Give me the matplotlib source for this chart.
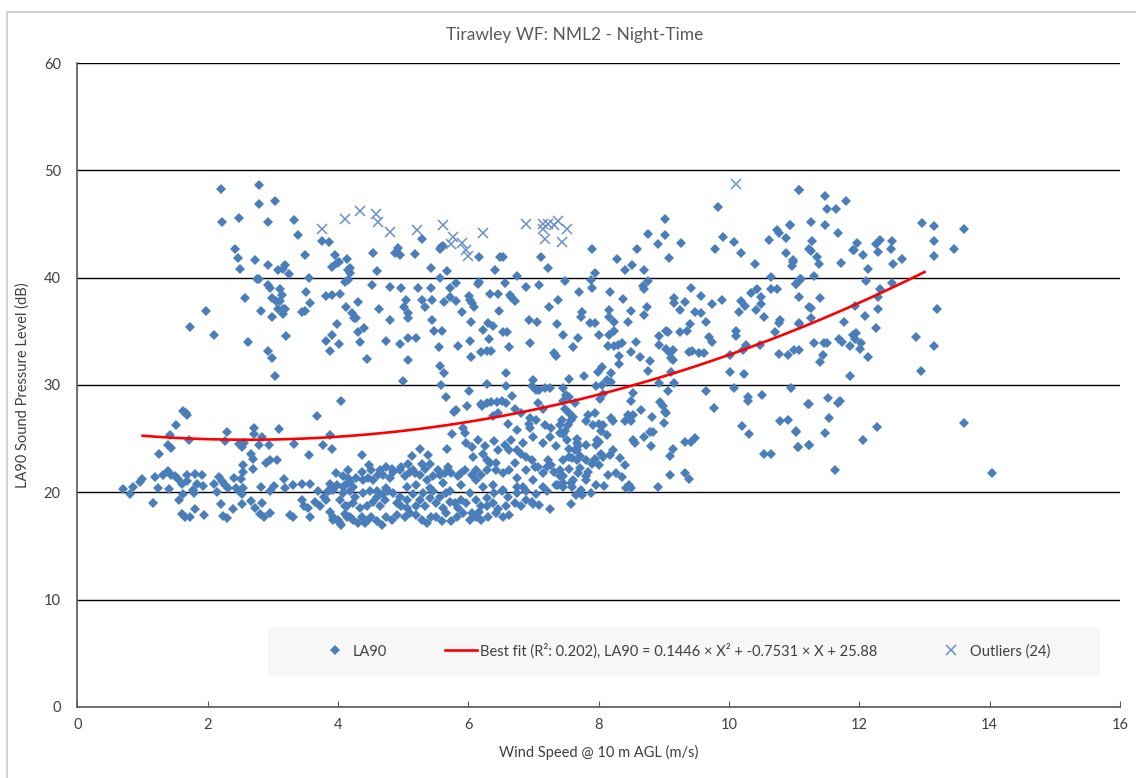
"""
Tirawley WF : nuage LA90 vs vitesse de vent (nuit) + ajustement quadratique.
"""

import numpy as np
import matplotlib
matplotlib.use("Agg")
import matplotlib.pyplot as plt
from matplotlib.patches import Rectangle

plt.rcParams['font.family'] = ['Lato', 'DejaVu Sans']

### Donnees (vitesse m/s, LA90 dB)

# groupe haut, vents faibles
high_left = [
    (2.20, 48.3), (2.79, 48.6), (2.79, 46.9), (3.03, 47.1), (2.22, 45.2), (2.48, 45.6), (2.92, 45.2),
    (3.33, 45.4), (3.38, 44.0), (3.75, 43.4), (3.86, 43.3), (2.41, 42.7), (2.46, 41.8), (2.50, 40.8),
    (2.72, 41.6), (2.92, 41.2), (3.07, 40.7), (3.16, 40.8), (3.18, 41.2), (3.25, 40.3), (3.49, 42.1),
    (3.55, 40.0), (3.95, 42.1), (3.90, 41.0), (3.98, 41.4), (4.01, 41.5), (4.14, 41.7), (4.15, 40.7),
    (2.76, 39.9), (2.79, 39.9), (2.93, 39.3), (2.95, 39.0), (3.11, 38.9), (3.14, 38.4), (2.57, 38.1),
    (2.98, 38.1), (3.04, 37.8), (3.11, 37.8), (3.51, 38.7), (3.57, 37.6), (3.82, 38.3), (3.91, 38.4),
    (4.03, 38.5), (4.11, 39.6), (4.15, 39.8), (4.12, 37.3), (2.81, 36.9), (2.99, 36.3), (3.07, 37.1),
    (3.16, 37.1), (3.19, 37.1), (3.16, 36.6), (3.44, 36.8), (3.49, 36.9), (1.98, 36.9), (1.73, 35.4),
    (2.09, 34.7), (2.61, 34.0), (3.20, 34.6), (3.98, 35.7), (3.91, 34.7), (3.81, 34.1), (4.02, 33.8),
    (3.87, 33.2), (2.92, 33.2), (2.98, 32.5), (3.03, 30.8),
]

# groupe bas, vents faibles
low_left = [
    (1.62, 27.6), (1.66, 27.4), (1.68, 27.2), (1.51, 26.3), (1.42, 25.3), (1.39, 24.4), (1.43, 24.1),
    (1.25, 23.6), (1.71, 24.9), (2.29, 25.6), (2.26, 24.8), (2.48, 24.5), (2.52, 24.2), (2.55, 24.6),
    (2.71, 26.0), (2.71, 25.4), (2.83, 25.2), (2.79, 24.4), (2.94, 24.4), (3.09, 25.9), (3.33, 24.5),
    (2.66, 23.6), (2.70, 23.1), (2.69, 22.2), (2.89, 22.7), (2.96, 23.0), (3.06, 23.0), (2.54, 22.5),
    (2.54, 21.9), (3.56, 23.5), (3.77, 24.4), (3.90, 24.0), (3.88, 25.3), (3.68, 27.1), (4.04, 28.5),
    (1.39, 22.0), (1.44, 21.6), (1.50, 21.5), (1.55, 21.2), (1.60, 20.8), (1.19, 21.4), (1.31, 21.6),
    (0.99, 21.2), (0.96, 21.0), (0.85, 20.5), (0.70, 20.3), (0.81, 19.8), (1.23, 20.4), (1.41, 20.3),
    (1.68, 21.6), (1.80, 21.7), (1.91, 21.6), (1.68, 21.1), (1.83, 20.8), (1.93, 20.6), (1.78, 20.2),
    (1.79, 19.9), (1.56, 19.3), (1.62, 19.8), (1.16, 19.0), (1.60, 18.0), (1.65, 17.7), (1.72, 17.7),
    (1.81, 18.4), (1.94, 17.9), (2.09, 20.8), (2.17, 21.4), (2.22, 21.1), (2.26, 20.7), (2.31, 20.4),
    (2.14, 20.0), (2.20, 18.9), (2.24, 17.8), (2.29, 17.6), (2.38, 18.4), (2.40, 21.3), (2.51, 21.2),
    (2.44, 20.4), (2.48, 20.1), (2.52, 19.8), (2.54, 20.4), (2.53, 18.9), (2.67, 19.2), (2.72, 18.5),
    (2.83, 19.0), (2.80, 18.0), (2.87, 17.7), (2.96, 18.1), (2.81, 20.5), (2.95, 20.1), (3.01, 20.6),
    (3.17, 21.2), (3.18, 20.4), (3.31, 20.7), (3.44, 20.8), (3.57, 20.8), (3.26, 17.9), (3.31, 17.7),
    (3.44, 19.3), (3.47, 18.7), (3.54, 18.5), (3.57, 17.7), (3.64, 19.1), (3.69, 20.1), (3.72, 18.7),
    (3.78, 19.6), (3.82, 19.3), (3.87, 18.2), (3.92, 17.4), (4.03, 17.1), (4.10, 18.7), (4.13, 17.7),
    (4.15, 21.3), (4.08, 20.5), (3.87, 20.8), (3.85, 20.1),
]

# groupe haut, vents moyens
high_mid = [
    (4.19, 40.9), (4.19, 40.4), (4.21, 36.7), (4.25, 36.2), (4.28, 36.2), (4.31, 37.7), (4.31, 34.9),
    (4.33, 34.0), (4.39, 35.3), (4.44, 32.4), (4.54, 42.3), (4.60, 40.6), (4.52, 39.3), (4.63, 37.1),
    (4.79, 39.1), (4.79, 36.1), (4.73, 34.1), (4.95, 33.8), (4.96, 39.0), (5.04, 37.9), (5.01, 37.3),
    (5.07, 36.7), (5.07, 36.2), (5.33, 37.3), (5.29, 37.9), (5.22, 39.0), (5.07, 34.4), (5.20, 34.4),
    (5.18, 42.2), (5.29, 43.6), (4.88, 42.3), (4.92, 42.8), (4.95, 42.1), (5.42, 39.05), (5.42, 40.9),
    (5.44, 37.9), (5.44, 36.1), (5.47, 35.0), (5.59, 35.0), (5.55, 33.5), (5.56, 40.0), (5.62, 37.7),
    (5.67, 40.6), (5.71, 39.0), (5.71, 38.2), (5.81, 39.5), (5.81, 37.8), (5.84, 33.6), (5.90, 36.8),
    (6.01, 38.3), (6.03, 37.9), (6.06, 37.6), (6.08, 37.3), (6.04, 35.9), (6.03, 34.1), (6.04, 32.6),
    (6.15, 39.4), (6.17, 39.6), (6.17, 41.9), (6.22, 35.1), (6.30, 35.8), (6.38, 35.5), (6.32, 34.3),
    (6.20, 33.1), (6.28, 33.2), (6.35, 33.2), (6.33, 38.5), (6.45, 38.5), (6.47, 36.9), (6.41, 40.7),
    (6.48, 41.9), (6.53, 41.9), (6.53, 34.9), (6.59, 34.9), (6.56, 39.5), (6.64, 38.4), (6.66, 38.2),
    (6.71, 37.8), (6.62, 33.5), (6.75, 40.2), (6.88, 39.1), (6.93, 36.1), (6.95, 33.9), (7.05, 35.9),
    (7.09, 39.3), (7.12, 41.9), (7.22, 40.9), (7.23, 37.3), (7.38, 37.9), (7.36, 35.7), (7.45, 34.7),
    (7.48, 39.7), (7.60, 33.5), (7.68, 34.4), (7.70, 38.7), (7.32, 33.0), (7.35, 32.7), (5.56, 42.65),
    (5.58, 42.83), (5.61, 42.96),
]

# groupe bas, vents moyens (montee)
low_mid = [
    (5.08, 32.3), (4.99, 30.4), (5.56, 31.8), (5.62, 31.1), (5.58, 30.0), (5.66, 28.9), (4.37, 23.5),
    (4.48, 22.5), (5.13, 23.4), (5.25, 24.0), (5.38, 23.5), (5.28, 22.6), (5.41, 22.6), (5.67, 24.0),
    (5.75, 25.4), (5.92, 26.0), (5.94, 25.5), (5.97, 24.6), (6.06, 24.2), (6.15, 24.9), (6.25, 24.3),
    (6.39, 24.8), (5.78, 27.5), (5.81, 27.7), (5.98, 28.0), (6.01, 29.4), (6.21, 28.0), (6.28, 30.1),
    (6.20, 28.2), (6.28, 28.3), (6.35, 28.4), (6.44, 28.4), (6.52, 28.5), (6.57, 31.1), (6.58, 29.9),
    (6.67, 29.0), (6.57, 28.3), (6.71, 27.8), (6.45, 27.4), (6.37, 27.1), (6.61, 26.4), (6.81, 27.4),
    (6.93, 26.4), (6.94, 26.9), (6.99, 30.5), (6.97, 29.9), (7.04, 29.5), (7.07, 28.3), (7.09, 29.5),
    (7.17, 29.7), (7.25, 29.7), (7.14, 27.8), (7.04, 26.7), (7.17, 26.3), (7.27, 26.0), (7.40, 26.3),
    (7.45, 28.5), (7.50, 29.1), (7.55, 30.6), (7.55, 27.4), (7.58, 26.7), (7.63, 28.3), (7.45, 25.4),
    (7.51, 24.9), (7.55, 24.0), (7.66, 25.0), (7.68, 24.3), (6.56, 24.4), (6.63, 23.95), (6.74, 23.95),
    (6.81, 23.6), (6.89, 23.3), (6.97, 23.0), (7.02, 22.4), (7.07, 22.4), (7.20, 22.4), (7.27, 22.55),
    (7.32, 21.9), (7.40, 21.5), (7.55, 23.3), (7.66, 23.0), (7.55, 22.2), (7.45, 20.85), (7.38, 20.7),
    (7.14, 20.5), (6.99, 21.15), (6.84, 20.5), (6.74, 21.3), (6.63, 22.1), (6.53, 21.8), (6.43, 22.1),
    (6.33, 22.7), (6.28, 22.1), (6.20, 21.6), (6.12, 21.15), (6.05, 21.6), (5.94, 22.1), (5.84, 21.5),
    (5.74, 21.8), (5.64, 21.8), (5.54, 22.1), (5.46, 21.5), (5.36, 21.15), (5.25, 21.6), (5.18, 21.8),
    (5.10, 21.9), (5.02, 21.5), (4.95, 22.1), (4.84, 21.9), (4.79, 21.3), (4.69, 21.6), (4.61, 21.6),
    (4.54, 21.15), (4.46, 21.3), (4.38, 21.15), (4.28, 21.3), (4.18, 21.0), (4.10, 20.7), (3.98, 20.7),
    (3.92, 20.2), (4.03, 19.3), (4.13, 18.7), (4.23, 19.0), (4.33, 18.5), (4.44, 18.7), (4.54, 19.1),
    (4.64, 18.7), (4.72, 19.3), (4.84, 19.9), (4.95, 19.6), (5.05, 19.3), (5.15, 19.8), (5.25, 19.3),
    (5.33, 18.7), (5.41, 19.45), (5.56, 19.6), (5.66, 19.9), (5.79, 19.0), (5.89, 19.3), (6.02, 19.9),
    (6.12, 19.3), (6.20, 18.7), (6.28, 19.45), (6.40, 19.9), (6.51, 20.1), (6.61, 19.6), (6.74, 19.9),
    (6.89, 20.1), (6.97, 19.1), (7.04, 19.8), (3.92, 17.7), (4.00, 17.4), (4.10, 18.0), (4.23, 17.4),
    (4.36, 17.7), (4.41, 17.1), (4.51, 17.7), (4.59, 17.3), (4.74, 17.7), (4.90, 17.9), (5.10, 18.05),
    (5.20, 17.9), (5.36, 17.1), (5.51, 17.7), (5.66, 18.05), (5.74, 17.3), (5.92, 18.05), (6.12, 17.7),
    (6.20, 17.4), (6.43, 18.05), (6.53, 17.7), (6.63, 17.9), (6.99, 18.95), (7.25, 18.4), (7.58, 18.95),
    (4.82, 22.2), (4.97, 22.4), (5.15, 22.1), (4.64, 22.1), (4.08, 21.5), (4.23, 20.5), (4.59, 20.1),
    (4.74, 20.4), (5.05, 20.5), (5.20, 20.7), (5.41, 20.4), (5.61, 20.85), (5.71, 20.1), (5.89, 20.7),
    (6.22, 20.5), (6.38, 20.7), (6.53, 20.2), (6.74, 20.5),
]

# bande dense 17-26 dB (lecture plus grossiere)
dense_band = [
    (3.87, 20.2), (4.08, 19.9), (4.18, 20.1), (4.26, 19.6), (4.38, 19.9), (4.49, 20.1), (4.59, 19.6),
    (4.69, 19.8), (4.77, 20.1), (4.90, 19.0), (4.97, 18.7), (5.05, 18.5), (5.20, 18.7), (5.30, 19.9),
    (5.46, 20.1), (5.51, 19.0), (5.61, 18.5), (5.71, 19.1), (5.84, 18.5), (5.97, 19.0), (6.05, 18.05),
    (6.17, 18.2), (6.28, 18.7), (6.38, 19.0), (6.45, 18.4), (6.58, 18.7), (6.71, 19.0), (6.81, 18.7),
    (6.89, 19.3), (7.09, 18.8), (7.20, 20.1), (7.35, 20.7), (7.45, 21.5), (7.61, 21.15), (3.97, 21.8),
    (4.15, 22.1), (4.36, 21.9), (4.51, 22.1), (4.74, 22.4), (5.07, 22.6), (5.33, 22.2), (5.56, 21.6),
    (5.69, 22.4), (5.89, 21.8), (6.12, 22.1), (6.28, 23.0), (6.43, 22.7), (6.71, 22.7), (6.89, 22.1),
    (7.14, 21.8), (7.22, 23.0), (7.45, 23.0), (4.05, 17.0), (4.18, 17.7), (4.31, 17.1), (4.46, 17.4),
    (4.67, 17.0), (4.82, 17.4), (5.02, 17.7), (5.28, 17.4), (5.43, 17.7), (5.59, 17.3), (5.82, 17.7),
    (6.02, 17.4), (6.30, 17.7), (6.07, 23.3), (6.22, 23.6), (6.45, 23.95), (6.66, 24.9), (6.84, 24.6),
    (6.99, 25.2), (7.14, 24.6), (7.25, 25.2), (7.35, 24.3), (7.40, 25.5), (6.74, 25.8), (6.94, 26.0),
]

# groupe haut, vents forts
high_right = [
    (9.83, 46.6), (11.07, 48.2), (9.01, 45.5), (8.76, 44.1), (9.02, 44.0), (8.91, 43.1), (9.27, 43.2),
    (8.58, 42.7), (7.90, 42.7), (9.08, 41.8), (8.28, 41.7), (8.40, 40.7), (8.51, 41.2), (8.69, 40.7),
    (9.90, 43.8), (9.79, 42.7), (10.08, 43.3), (10.18, 42.3), (10.40, 41.3), (10.62, 43.5), (10.73, 44.4),
    (10.77, 44.2), (10.93, 44.9), (10.88, 43.7), (10.88, 42.3), (10.98, 41.6), (10.96, 41.1), (10.65, 40.1),
    (11.09, 39.9), (11.03, 39.4), (11.22, 42.7), (7.95, 40.4), (7.88, 39.8), (7.89, 39.0), (8.18, 38.7),
    (8.37, 38.0), (8.50, 36.9), (8.74, 37.25), (8.68, 39.2), (8.70, 38.9), (8.75, 39.7), (7.74, 36.8),
    (7.73, 36.3), (7.87, 35.8), (7.94, 35.8), (8.16, 37.0), (8.16, 36.3), (8.23, 35.9), (8.45, 35.9),
    (8.70, 36.5), (8.00, 34.7), (8.16, 34.7), (8.24, 35.0), (8.36, 33.9), (8.57, 34.05), (8.14, 33.6),
    (8.24, 33.6), (8.29, 33.7), (8.31, 32.7), (8.50, 33.1), (8.64, 32.6), (8.92, 34.6), (9.03, 35.0),
    (9.06, 34.9), (9.15, 38.1), (9.16, 37.6), (9.32, 37.7), (9.42, 39.0), (9.57, 38.3), (9.24, 37.0),
    (9.47, 36.8), (9.57, 36.7), (9.40, 35.7), (9.64, 35.9), (9.24, 34.9), (9.35, 35.0), (9.74, 37.5),
    (9.89, 37.9), (10.19, 37.8), (10.24, 37.4), (10.16, 36.8), (10.34, 38.6), (10.43, 38.9), (10.49, 38.2),
    (10.65, 38.9), (10.73, 38.9), (10.41, 37.0), (10.49, 37.5), (10.54, 36.3), (10.78, 36.1), (10.77, 35.8),
    (11.08, 35.8), (11.22, 37.3), (11.08, 38.2), (10.71, 34.9), (10.10, 35.0), (10.10, 34.6), (9.70, 34.5),
    (9.74, 34.05), (8.93, 33.7), (9.04, 33.4), (9.09, 33.0), (9.14, 33.3), (9.11, 32.5), (9.38, 33.1),
    (9.43, 33.2), (9.54, 33.0), (9.62, 33.0), (10.01, 32.8), (10.21, 33.3), (10.26, 33.7), (10.47, 33.7),
    (10.77, 32.9), (10.90, 32.8), (11.00, 33.3), (11.08, 33.3),
]

# groupe bas, vents forts
low_right = [
    (7.78, 30.85), (7.99, 31.25), (8.05, 31.7), (8.19, 31.1), (8.31, 31.97), (7.96, 29.9), (8.05, 30.0),
    (8.12, 30.5), (8.19, 30.3), (8.06, 29.2), (8.02, 28.7), (7.45, 29.7), (7.55, 28.9), (7.49, 27.8),
    (7.44, 26.75), (7.60, 27.06), (7.53, 26.3), (7.48, 25.7), (7.63, 23.95), (7.66, 24.6), (7.81, 26.6),
    (7.83, 27.2), (7.95, 27.4), (7.91, 26.3), (8.01, 26.4), (8.04, 25.7), (8.06, 26.3), (8.12, 25.35),
    (8.19, 26.9), (8.22, 26.6), (8.40, 26.6), (8.50, 26.6), (8.52, 27.2), (8.45, 27.2), (8.50, 28.5),
    (8.53, 29.3), (8.65, 27.7), (8.75, 31.35), (8.79, 32.2), (8.93, 30.2), (9.06, 29.4), (9.15, 30.2),
    (9.11, 31.25), (9.14, 32.3), (8.94, 28.4), (8.98, 28.0), (9.01, 27.5), (9.03, 27.4), (8.82, 27.0),
    (9.00, 26.5), (8.78, 25.6), (8.84, 25.6), (8.70, 25.2), (8.52, 24.9), (8.55, 24.6), (8.80, 24.3),
    (9.14, 24.0), (9.10, 23.4), (9.32, 24.7), (9.42, 24.7), (9.48, 25.1), (9.09, 21.6), (9.32, 21.8),
    (9.39, 21.2), (8.91, 20.5), (9.64, 29.4), (9.77, 27.9), (10.01, 31.25), (10.07, 29.7), (10.23, 31.0),
    (10.29, 28.9), (10.29, 28.5), (10.50, 29.1), (10.20, 26.2), (10.30, 25.4), (10.54, 23.55), (10.64, 23.6),
    (10.78, 26.65), (10.90, 26.75), (10.95, 29.7), (11.03, 25.7), (11.06, 24.2), (11.21, 28.2), (11.22, 24.4),
    (7.40, 22.1), (7.45, 20.5), (7.58, 20.85), (7.59, 20.5), (7.65, 19.76), (7.75, 19.76), (7.73, 20.2),
    (7.88, 19.97), (7.96, 20.7), (8.08, 20.6), (7.59, 23.2), (7.66, 23.95), (7.71, 23.4), (7.81, 24.4),
    (7.96, 24.4), (7.97, 24.9), (8.01, 24.7), (8.04, 23.55), (8.06, 23.3), (7.94, 23.1), (7.81, 23.0),
    (7.89, 22.65), (8.01, 22.55), (7.71, 22.25), (7.68, 21.8), (7.81, 21.5), (7.83, 21.9), (7.81, 21.15),
    (8.17, 23.5), (8.22, 23.95), (8.32, 23.2), (8.40, 22.5), (8.14, 21.6), (8.27, 21.8), (8.35, 21.4),
    (8.42, 20.4), (8.47, 20.7), (8.50, 20.4),
]

# vents tres forts
far_right = [
    (11.08, 48.2), (11.48, 47.6), (11.50, 46.4), (11.64, 46.4), (11.80, 47.1), (11.26, 45.2), (11.48, 44.9),
    (11.67, 44.2), (10.93, 44.9), (11.28, 43.4), (11.26, 42.5), (11.35, 41.9), (11.38, 41.3), (10.98, 41.5),
    (11.72, 41.4), (11.90, 42.6), (11.92, 42.6), (11.96, 43.2), (12.05, 42.1), (12.14, 40.85), (12.26, 43.1),
    (12.31, 43.5), (12.29, 42.4), (12.48, 42.65), (12.50, 43.4), (12.51, 41.3), (12.66, 41.7), (12.96, 45.1),
    (13.14, 44.8), (13.14, 43.4), (13.14, 42.0), (13.45, 42.65), (13.61, 44.5), (11.30, 40.2), (11.10, 39.9),
    (11.02, 39.4), (12.10, 39.7), (11.39, 38.1), (11.26, 37.2), (11.26, 36.2), (11.08, 35.7), (11.76, 35.9),
    (11.94, 37.4), (12.09, 36.4), (12.32, 38.9), (12.29, 38.2), (12.28, 37.1), (12.50, 39.5), (12.25, 35.3),
    (11.90, 34.7), (11.95, 34.8), (11.93, 34.3), (12.03, 33.95), (12.01, 33.4), (11.68, 34.3), (11.73, 34.05),
    (11.30, 33.95), (11.46, 33.95), (11.50, 33.95), (11.86, 33.6), (11.44, 32.8), (12.14, 32.65), (12.87, 34.5),
    (13.14, 33.6), (13.19, 37.1), (11.39, 32.1), (11.85, 30.8), (12.95, 31.35), (11.22, 28.2), (11.52, 28.8),
    (11.67, 28.3), (11.71, 28.5), (11.53, 26.9), (11.02, 25.66), (11.48, 25.57), (12.27, 26.1), (11.06, 24.2),
    (11.22, 24.4), (12.06, 24.9), (11.63, 22.1), (13.61, 26.5), (14.03, 21.8),
]

# points exclus (croix)
outliers = [
    (3.75, 44.5), (4.10, 45.5), (4.33, 46.2), (4.58, 45.9), (4.61, 45.2), (4.79, 44.3), (5.21, 44.4),
    (5.61, 44.9), (5.76, 43.8), (5.74, 43.1), (5.90, 43.2), (5.97, 42.6), (6.00, 42.0), (6.22, 44.2),
    (6.88, 45.0), (7.15, 45.0), (7.15, 44.5), (7.22, 45.0), (7.31, 44.9), (7.38, 45.3), (7.51, 44.5),
    (7.17, 43.6), (7.43, 43.3), (10.11, 48.7),
]

# ajustement (coefficients de la legende), trace de 1 a 13 m/s
FIT_COEF = [0.1446, -0.7531, 25.88]
FIT_RANGE = (1.0, 13.0)

### Traitement
pts = np.array(high_left + low_left + high_mid + low_mid + dense_band
               + high_right + low_right + far_right)
ws, la90 = pts[:, 0], pts[:, 1]
out = np.array(outliers)

fit_ws = np.linspace(FIT_RANGE[0], FIT_RANGE[1], 60)
fit_la90 = np.polyval(FIT_COEF, fit_ws)

### Affichage
BLUE = '#4a7ebb'
TXT = '#404040'

fig = plt.figure(figsize=(11.36, 7.78), dpi=100)
fig.patches.append(Rectangle((0.006, -0.05), 1.0, 1.0346, transform=fig.transFigure,
                             fill=False, edgecolor='#c8c8c8', lw=1.2))

ax = fig.add_axes([0.0682, 0.0913, 0.9177, 0.8277])

ax.plot(ws, la90, 'D', color=BLUE, ms=4.6, mew=0, zorder=3, label='LA90')
ax.plot(fit_ws, fit_la90, color='#ff0000', lw=1.9, zorder=4,
        label='Best fit (R²: 0.202), LA90 = 0.1446 × X² + -0.7531 × X + 25.88')
ax.plot(out[:, 0], out[:, 1], 'x', color='#6a8fcb', ms=7, mew=1.1, zorder=3,
        label='Outliers (24)')

ax.set_xlim(0, 16)
ax.set_ylim(0, 60)
ax.set_xticks(np.arange(0, 17, 2))
ax.set_yticks(np.arange(0, 61, 10))
ax.yaxis.grid(True, color='black', lw=1.0)
ax.set_axisbelow(True)

for s in ['top', 'right']:
    ax.spines[s].set_visible(False)
for s in ['left', 'bottom']:
    ax.spines[s].set_color('#595959')
    ax.spines[s].set_linewidth(1.2)

ax.tick_params(axis='x', direction='in', length=4, color='#595959', pad=8, labelsize=10.5, labelcolor=TXT)
ax.tick_params(axis='y', length=0, pad=12, labelsize=10.5, labelcolor=TXT)

ax.set_xlabel('Wind Speed @ 10 m AGL (m/s)', fontsize=10.5, color=TXT, labelpad=9)
ax.set_ylabel('LA90 Sound Pressure Level (dB)', fontsize=10.5, color=TXT, labelpad=10)

fig.text(0.506, 0.955, 'Tirawley WF: NML2 - Night-Time', ha='center', va='center',
         fontsize=12.5, color='#595959')

# fond de la legende
ax.add_patch(Rectangle((0.183, 0.048), 0.798, 0.076, transform=ax.transAxes,
                       facecolor='#f7f7f7', edgecolor='none', zorder=5))
leg = ax.legend(loc='center', bbox_to_anchor=(0.582, 0.087), ncol=3, frameon=False,
                fontsize=10.5, handlelength=2.2, handletextpad=0.15, columnspacing=4.0,
                labelcolor=TXT)
leg.set_zorder(6)

fig.savefig('out.png', dpi=100)
